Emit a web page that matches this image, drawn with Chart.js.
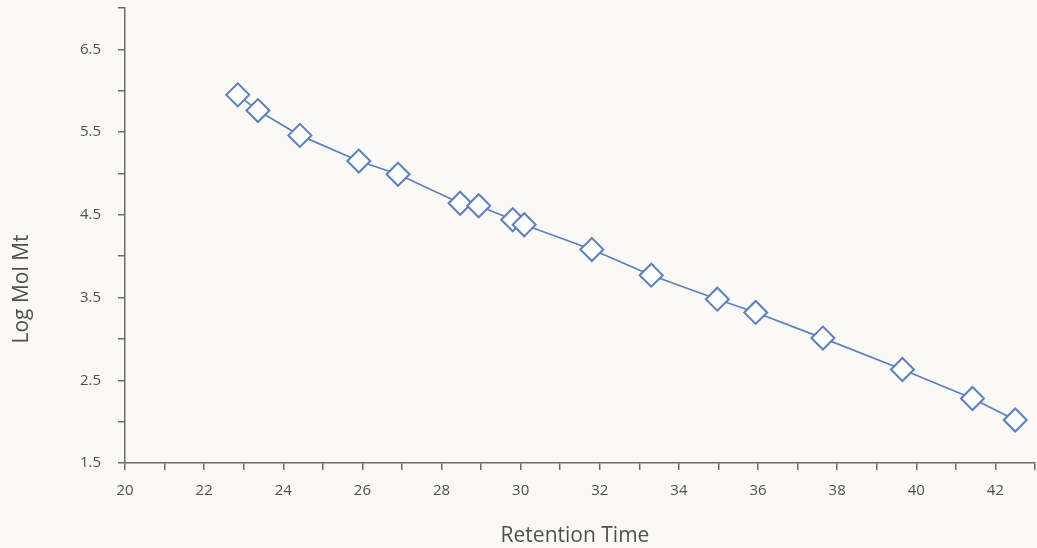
<!DOCTYPE html>
<html>
<head>
<meta charset="utf-8">
<script src="https://cdn.jsdelivr.net/npm/chart.js@4/dist/chart.umd.min.js"></script>
<style>
  html, body { margin: 0; padding: 0; background: #faf9f6; }
  #wrap { width: 1037px; height: 548px; position: relative; }
</style>
</head>
<body>
<div id="wrap"><canvas id="calib"></canvas></div>
<script>
// retention time (min) vs log molecular weight
var retentionTime = [22.85, 23.36, 24.42, 25.91, 26.9, 28.47, 28.94, 29.8, 30.09, 31.8, 33.3, 34.97, 35.94, 37.64, 39.65, 41.42, 42.5];
var logMolWt = [5.95, 5.76, 5.46, 5.15, 4.99, 4.64, 4.61, 4.44, 4.38, 4.08, 3.77, 3.48, 3.32, 3.01, 2.63, 2.28, 2.02];
var xTitle = "Retention Time";
var yTitle = "Log Mol Mt";

var points = retentionTime.map(function (t, i) {
  return { x: t, y: logMolWt[i] };
});

var blue = "#5a7fc3";
var axisGrey = "#6a6a6a";
var textGrey = "#505050";

// axis titles drawn by hand so they sit where they should
var axisTitles = {
  id: "axisTitles",
  afterDraw: function (chart) {
    var ctx = chart.ctx;
    ctx.save();
    ctx.fillStyle = textGrey;
    ctx.font = "21px 'Open Sans'";
    ctx.textAlign = "center";
    ctx.textBaseline = "middle";
    ctx.fillText(xTitle, 575, 536);
    ctx.translate(22, 289);
    ctx.rotate(-Math.PI / 2);
    ctx.fillText(yTitle, 0, 0);
    ctx.restore();
  },
};

new Chart("calib", {
  type: "scatter",
  data: {
    datasets: [
      {
        data: points,
        showLine: true,
        borderColor: blue,
        borderWidth: 1.7,
        pointStyle: "rectRot",
        pointRadius: 11.5,
        pointBorderWidth: 2,
        pointBackgroundColor: "#ffffff",
        pointBorderColor: blue,
      },
    ],
  },
  options: {
    responsive: true,
    maintainAspectRatio: false,
    animation: false,
    layout: { autoPadding: false, padding: { top: 8, right: 2, left: 0, bottom: 0 } },
    plugins: {
      legend: { display: false },
      tooltip: { enabled: false },
    },
    scales: {
      x: {
        type: "linear",
        min: 20,
        max: 43,
        afterFit: function (s) {
          s.height = 85;
          s.paddingLeft = 0;
          s.paddingRight = 0;
        },
        border: { color: axisGrey, width: 1.5 },
        grid: { drawOnChartArea: false, tickLength: 7, color: axisGrey, lineWidth: 1.5 },
        ticks: {
          stepSize: 1,
          padding: 12,
          color: textGrey,
          font: { family: "Open Sans", size: 15 },
          maxRotation: 0,
          autoSkip: false,
          callback: function (v) { return v % 2 === 0 && v < 43 ? String(v) : ""; },
        },
      },
      y: {
        min: 1.5,
        max: 7,
        afterFit: function (s) {
          s.width = 125;
          s.paddingTop = 0;
          s.paddingBottom = 0;
        },
        border: { color: axisGrey, width: 1.5 },
        grid: { drawOnChartArea: false, tickLength: 7, color: axisGrey, lineWidth: 1.5 },
        ticks: {
          stepSize: 0.5,
          padding: 17,
          color: textGrey,
          font: { family: "Open Sans", size: 15 },
          autoSkip: false,
          callback: function (v) {
            return Math.abs(v - Math.floor(v) - 0.5) < 1e-6 && v < 7 ? v.toFixed(1) : "";
          },
        },
      },
    },
  },
  plugins: [axisTitles],
});
</script>
</body>
</html>
